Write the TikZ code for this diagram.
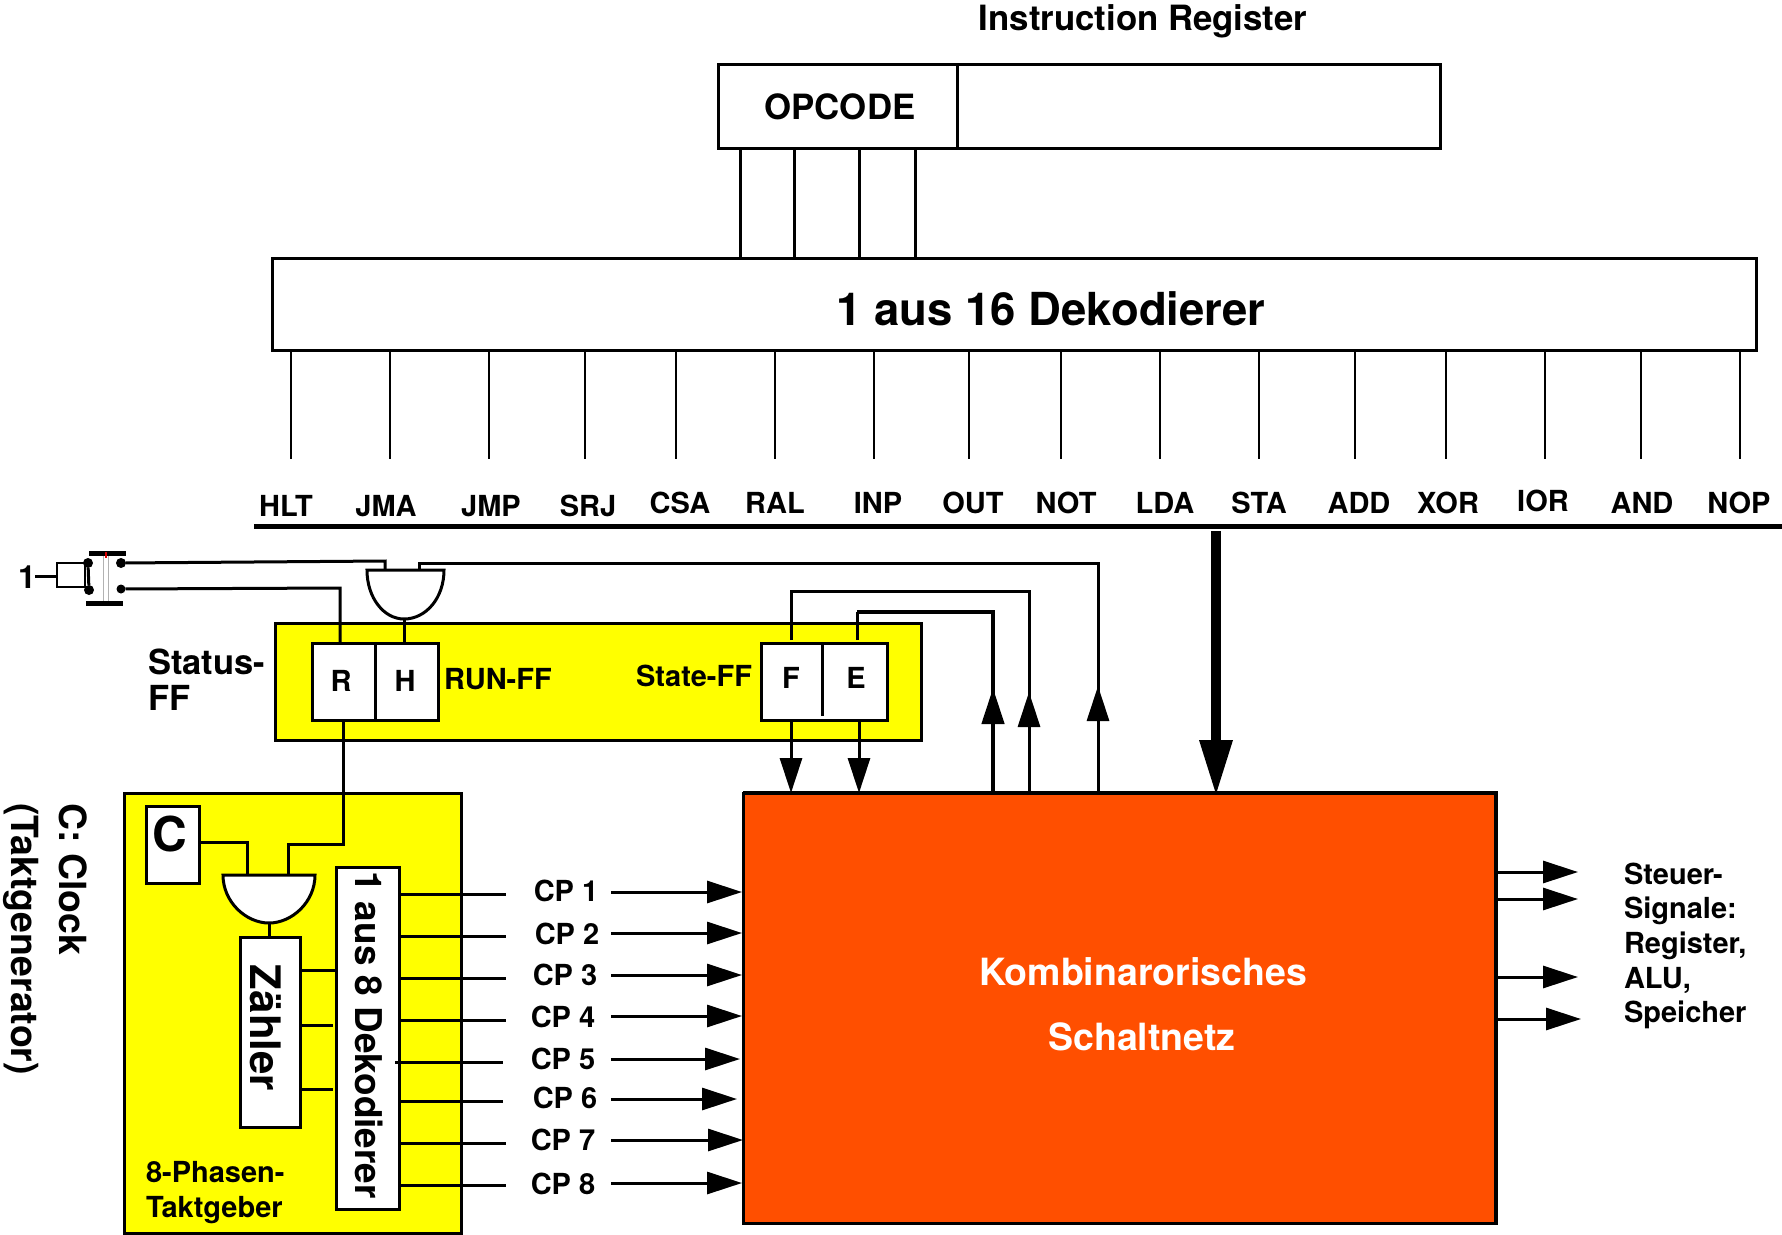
\documentclass[tikz,border=0pt]{standalone}
\usepackage{fontspec}
\setmainfont{TeX Gyre Heros}
\usetikzlibrary{arrows.meta,calc}
\definecolor{clockyellow}{HTML}{FFFF00}
\definecolor{netorange}{HTML}{FF4F00}
\newcommand{\fs}[1]{\fontsize{#1}{#1}\selectfont\bfseries}
\tikzset{
  x=1pt,y=-1pt,
  every node/.style={inner sep=0pt,outer sep=0pt},
  boxw/.style={draw,line width=3pt,fill=white},
  boxy/.style={draw,line width=3pt,fill=clockyellow},
  wire/.style={line width=3pt},
  thinwire/.style={line width=2.5pt},
  gatepath/.style={draw,line width=3pt,fill=white},
  lab/.style={font=\fs{29}},
  sig/.style={line width=3pt,-{Triangle[length=35pt,width=22pt]}},
  big/.style={line width=9.5pt,-{Triangle[length=56pt,width=31pt]}},
  upthick/.style={line width=4.5pt,-{Triangle[length=36pt,width=22pt]}},
}
\begin{document}
\begin{tikzpicture}
\useasboundingbox (0,0) rectangle (1782,1234);
% Instruction register
\node[font=\fs{34.8}] (irtitle) at (1143,21) {Instruction Register};
\node[boxw,minimum width=722pt,minimum height=84pt] (ir) at (1079,106) {};
\coordinate (irdiv) at (957,106);
\draw[wire] (irdiv |- ir.north) -- (irdiv |- ir.south);
\node[font=\fs{34.8}] (opcode) at (840,107) {OPCODE};
% 1 aus 16
\node[boxw,minimum width=1484pt,minimum height=92pt] (dec) at (1014,304) {};
\node[font=\fs{45.5}] (dectext) at (1051,309) {1 aus 16 Dekodierer};
\foreach \i/\x in {1/740,2/794,3/859,4/915}{
  \coordinate (op\i) at (\x,200);
  \draw[wire] (op\i |- ir.south) -- (op\i |- dec.north);
}
\foreach \i/\x/\lx/\ly/\t in {
  1/291/286/506/HLT,2/390/386/506/JMA,3/489/491/506/JMP,4/585/588/506/SRJ,
  5/676/680/503/CSA,6/775/775/503/RAL,7/874/878/503/INP,8/969/973/503/OUT,
  9/1061/1066/503/NOT,10/1160/1165/503/LDA,11/1259/1259/503/STA,12/1355/1359/503/ADD,
  13/1446/1448/503/XOR,14/1545/1543/501/IOR,15/1641/1642/503/AND,16/1740/1739/503/NOP}{
  \coordinate (pin\i) at (\x,459);
  \draw[thinwire] (pin\i |- dec.south) -- (pin\i);
  \node[lab] (oplab\i) at (\lx,\ly) {\t};
}
\coordinate (busl) at (254,526);
\coordinate (busr) at (1782,526);
\draw[line width=5pt] (busl) -- (busr);
% Status FF
\node[boxy,minimum width=646pt,minimum height=117pt] (status) at (598.5,681.5) {};
\node[boxw,minimum width=126pt,minimum height=77pt] (rh) at (375,681.5) {};
\node[boxw,minimum width=126pt,minimum height=77pt] (fe) at (824,681.5) {};
\draw[wire] (rh.north) -- (rh.south);
\coordinate (fediv) at (822,716);
\draw[wire] (fediv |- fe.north) -- (fediv);
\node[font=\fs{29}] (r) at (341,681) {R};
\node[font=\fs{29}] (h) at (405,681) {H};
\node[font=\fs{29}] (f) at (791,678) {F};
\node[font=\fs{29}] (e) at (856,678) {E};
\node[font=\fs{29},anchor=west] (runff) at (444,679) {RUN-FF};
\node[font=\fs{29},anchor=west] (stateff) at (636,676) {State-FF};
\node[font=\fontsize{34.5}{36}\selectfont\bfseries,align=left,anchor=west] (statusff) at (148,680) {Status-\\FF};
% Switch
\coordinate (sw1) at (89,553); \coordinate (sw2) at (126,553);
\coordinate (sw3) at (86,603); \coordinate (sw4) at (123,603);
\coordinate (sw5) at (103,553); \coordinate (sw6) at (103,603);
\coordinate (sw7) at (108,553); \coordinate (sw8) at (108,603);
\draw[line width=.8pt,black!30] (sw5) -- (sw6) (sw7) -- (sw8);
\draw[line width=5pt] (sw1) -- (sw2) (sw3) -- (sw4);
\fill[red!85!black] (104.7,552) rectangle (106.7,558);
\node[draw,line width=2.5pt,minimum width=28pt,minimum height=24pt] (swbox) at (71,575) {};
\node[circle,fill=black,minimum size=10pt] (dl1) at (88,563) {};
\node[circle,fill=black,minimum size=10pt] (dl2) at (89,590) {};
\node[circle,fill=black,minimum size=10pt] (dr1) at (121,563) {};
\node[circle,fill=black,minimum size=9pt] (dr2) at (121,589) {};
\draw[wire] (dl1) -- (dl2);
\node[font=\fs{32}] (one) at (27,577) {1};
\coordinate (onedash) at (35,576);
\draw[wire] (onedash) -- (onedash -| swbox.west);
% Gate A
\coordinate (gaL) at (367,570); \coordinate (gaR) at (444,570); \coordinate (gaB) at (404,619);
\path[gatepath] (gaL) -- (gaR) .. controls (444,598) and (426,619) .. (gaB) .. controls (384,619) and (367,598) .. (gaL) -- cycle;
\coordinate (gaIn1) at (385,561);
\coordinate (gaIn2) at (419,563);
\coordinate (c3) at (1098,563);
\coordinate (rin) at (340,588);
\draw[wire] (dr1) -- (gaIn1) -- (gaIn1 |- gaL);
\draw[wire] (dr2) -- (rin) -- (rin |- rh.north);
\draw[wire] (gaB) -- (gaB |- rh.north);
% Orange block
\node[draw,line width=3pt,fill=netorange,minimum width=753pt,minimum height=430pt] (net) at (1119.5,1008) {};
\draw[line width=4.5pt] (net.north west) -- (net.north east) -- (net.south east);
\node[font=\fs{37.5},text=white] (net1) at (1143,972) {Kombinarorisches};
\node[font=\fs{37.5},text=white] (net2) at (1142,1037) {Schaltnetz};
% State wires
\coordinate (f1) at (791,640); \coordinate (f2) at (791,591); \coordinate (f3) at (1029,591);
\coordinate (e1) at (857,640); \coordinate (e2) at (857,612); \coordinate (e3) at (993,612);
\coordinate (fd) at (791,793); \coordinate (ed) at (859,793);
\coordinate (ftip) at (1029,692); \coordinate (etip) at (993,688); \coordinate (ctip) at (1098,686);
\draw[wire] (gaIn2 |- gaL) -- (gaIn2) -- (c3) -- (c3 |- net.north);
\draw[sig] (c3 |- net.north) -- (ctip);
\draw[wire] (f1) -- (f2) -- (f3) -- (f3 |- net.north);
\draw[sig] (f3 |- net.north) -- (ftip);
\draw[wire] (e1) -- (e2);
\draw[line width=4.5pt] (e2) -- (e3) -- (e3 |- net.north);
\draw[upthick] (e3 |- net.north) -- (etip);
\draw[sig] (fd |- fe.south) -- (fd);
\draw[sig] (ed |- fe.south) -- (ed);
\coordinate (bigtip) at (1216,796);
\coordinate (bigstart) at (1216,531);
\draw[big] (bigstart) -- (bigtip);
% Clock
\node[boxy,minimum width=337pt,minimum height=440pt] (clock) at (292.5,1013) {};
\node[boxw,minimum width=53pt,minimum height=77pt] (cbox) at (172.5,844.5) {};
\node[font=\fs{48}] (ctext) at (170,834) {C};
\node[boxw,minimum width=60pt,minimum height=190pt] (zaehler) at (270,1032) {};
\node[font=\fs{42},rotate=-90] (ztext) at (266,1028) {Zähler};
\node[boxw,minimum width=63pt,minimum height=342pt] (dec8) at (367.5,1038) {};
\node[font=\fs{36.9},rotate=-90] (dec8text) at (369,1035) {1 aus 8 Dekodierer};
\coordinate (gbL) at (223,875); \coordinate (gbR) at (315,875); \coordinate (gbB) at (269,923);
\path[gatepath] (gbL) -- (gbR) .. controls (315,902) and (292,923) .. (gbB) .. controls (246,923) and (223,902) .. (gbL) -- cycle;
\coordinate (gbIn1) at (247,842);
\coordinate (gbIn2) at (288,844);
\coordinate (rOut) at (343,844);
\draw[wire] (cbox.east |- gbIn1) -- (gbIn1) -- (gbIn1 |- gbL);
\draw[wire] (rOut |- rh.south) -- (rOut) -- (gbIn2) -- (gbIn2 |- gbL);
\draw[wire] (gbB) -- (gbB |- zaehler.north);
\coordinate (z1) at (336,970); \coordinate (z2) at (333,1025); \coordinate (z3) at (333,1089);
\draw[wire] (zaehler.east |- z1) -- (z1);
\draw[wire] (zaehler.east |- z2) -- (z2);
\draw[wire] (zaehler.east |- z3) -- (z3);
\node[font=\fontsize{29}{35}\selectfont\bfseries,align=left,anchor=west] (phasen) at (146,1193) {8-Phasen-\\Taktgeber};
% CP lines
\foreach \i/\y/\ex/\ax/\ay/\tx/\ty/\gx in {
  1/894/506/742/892/566/891/398,2/936/506/742/933/567/934/398,3/978/506/742/975/565/975/398,4/1020/506/742/1016/563/1017/398,
  5/1062/503/740/1059/563/1059/395,6/1101/503/737/1099/565/1098/398,7/1143/506/743/1140/563/1140/399,8/1185/506/742/1183/563/1184/398}{
  \coordinate (cpo\i) at (\ex,\y);
  \coordinate (cps\i) at (\gx,\y);
  \draw[wire] (cps\i) -- (cpo\i);
  \node[lab] (cp\i) at (\tx,\ty) {CP \i};
  \coordinate (cpa\i) at (611,\ay);
  \coordinate (cpb\i) at (\ax,\ay);
  \draw[sig] (cpa\i) -- (cpb\i);
}
% Outputs
\foreach \i/\y/\ex in {1/872/1578,2/899/1578,3/977/1578,4/1019/1581}{
  \coordinate (so\i) at (\ex,\y);
  \draw[sig] (net.east |- so\i) -- (so\i);
}
\node[font=\fontsize{29}{34.7}\selectfont\bfseries,align=left,anchor=west] (steuer) at (1624,946) {Steuer-\\Signale:\\Register,\\ALU,\\Speicher};
\node[font=\fontsize{37.4}{48}\selectfont\bfseries,align=left,rotate=-90] (clocktext) at (45,939) {C: Clock\\(Taktgenerator)};
\end{tikzpicture}
\end{document}
